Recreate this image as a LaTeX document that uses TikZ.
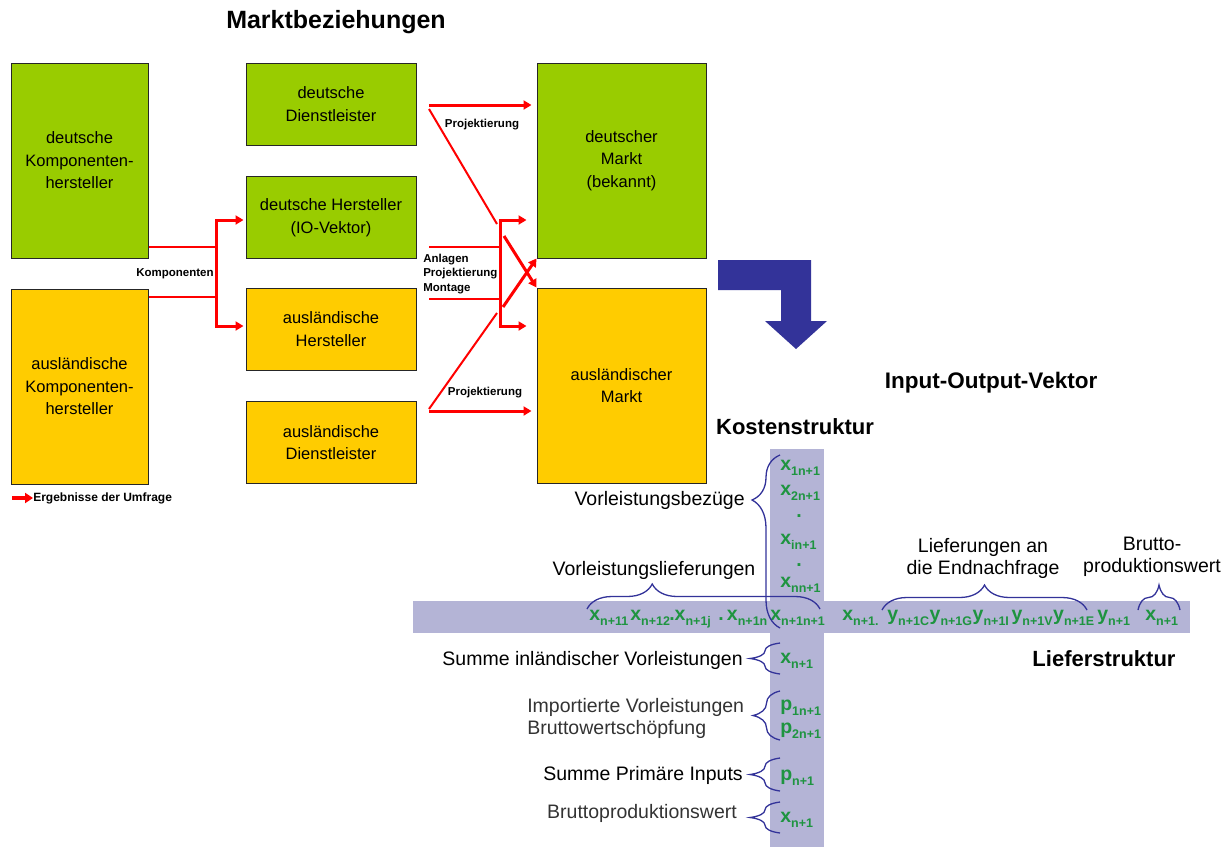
\documentclass[tikz,border=0pt]{standalone}
\usepackage{fontspec}
\setmainfont{Liberation Sans}
\usetikzlibrary{arrows.meta}
\usetikzlibrary{positioning}
\usetikzlibrary{calc}
\usetikzlibrary{decorations.pathreplacing}

\definecolor{kgreen}{HTML}{99CC00}
\definecolor{korange}{HTML}{FFCC00}
\definecolor{kred}{HTML}{FF0000}
\definecolor{kblue}{HTML}{333399}
\definecolor{kbar}{HTML}{B4B4D6}
\definecolor{kval}{HTML}{1E9440}

\newcommand{\fs}[1]{\fontsize{#1}{#1}\selectfont}
\newcommand{\ioval}[2]{{\fs{19.5}\bfseries #1}{\fs{12.5}\bfseries\raisebox{-5pt}{#2}}}

\begin{document}
\begin{tikzpicture}[x=1pt,y=-1pt,semithick]
		\tikzstyle{firmbox}=[draw=black!85,line width=1pt,inner sep=0pt,align=center,font=\fontsize{16.5}{22.5}\selectfont]
		\tikzstyle{bigbox}=[firmbox,minimum width=137pt,minimum height=195pt]
		\tikzstyle{midbox}=[firmbox,minimum width=170pt,minimum height=82pt]
		\tikzstyle{mktbox}=[firmbox,minimum width=169pt,minimum height=195pt]
		\tikzstyle{redline}=[draw=kred,line width=2pt]
		\tikzstyle{redarrow}=[draw=kred,line width=3pt,-{Triangle[length=8pt,width=9pt]}]
		\tikzstyle{smalllbl}=[inner sep=0pt,font=\fs{11.5}\bfseries]
		\tikzstyle{lbl}=[inner sep=0pt,align=center,font=\fontsize{19.5}{22}\selectfont]
		\tikzstyle{head}=[inner sep=0pt,font=\fs{22}\bfseries]
		\tikzstyle{val}=[inner sep=0pt,anchor=base west,text=kval]
		\tikzstyle{brc}=[draw=kblue,line width=1.3pt,decorate]
		
		\useasboundingbox (0,0) rectangle (1228,847);
		
		% Marktbeziehungen
		\node[inner sep=0pt,font=\fs{25}\bfseries] (T) at (336,22) {Marktbeziehungen};
		
		\node[bigbox,fill=kgreen]   (DK) at (79.5,160.5) {deutsche\\Komponenten-\\hersteller};
		\node[bigbox,fill=korange]  (AK) at (79.5,386.5) {ausländische\\Komponenten-\\hersteller};
		\node[midbox,fill=kgreen]   (DD) at (331,104)    {deutsche\\Dienstleister};
		\node[midbox,fill=kgreen]   (DH) at (331,217.5)  {deutsche Hersteller\\(IO-Vektor)};
		\node[midbox,fill=korange]  (AH) at (331,329)    {ausländische\\Hersteller};
		\node[midbox,fill=korange]  (AD) at (331,442.5)  {ausländische\\Dienstleister};
		\node[mktbox,fill=kgreen]   (DM) at (621.5,160.5) {deutscher\\Markt\\(bekannt)};
		\node[mktbox,fill=korange]  (AM) at (621.5,385.5) {ausländischer\\Markt};
		
		% Komponenten
		\coordinate (ka) at (216,247);
		\coordinate (kb) at (216,297);
		\coordinate (kt) at (216,220);
		\coordinate (kd) at (216,326);
		\draw[redline] (DK.east |- ka) -- (ka);
		\draw[redline] (AK.east |- kb) -- (kb);
		\draw[redarrow,{Triangle[length=8pt,width=9pt]}-{Triangle[length=8pt,width=9pt]},shorten <=2pt,shorten >=2pt]
			(DH.west |- kt) -- (kt) -- (kd) -- (AH.west |- kd);
		\node[smalllbl] (KL) at (175,274) {Komponenten};
		
		% Projektierung, Anlagen, Montage
		\coordinate (pa) at (429,105);
		\coordinate (pb) at (429,109);
		\coordinate (pc) at (497,224);
		\coordinate (pd) at (497,313);
		\coordinate (pe) at (429,409);
		\coordinate (pf) at (429,411);
		\coordinate (ra) at (500,220);
		\coordinate (rd) at (500,326);
		\coordinate (la) at (429,247);
		\coordinate (lc) at (429,299);
		\coordinate (xa) at (504,236);
		\coordinate (xb) at (503,307);
		\draw[redarrow,shorten >=5pt] (pa) -- (DM.west |- pa);
		\draw[redline] (pb) -- (pc);
		\draw[redarrow,{Triangle[length=8pt,width=9pt]}-{Triangle[length=8pt,width=9pt]},shorten <=10pt,shorten >=10pt]
			(DM.west |- ra) -- (ra) -- (rd) -- (AM.west |- rd);
		\draw[redline] (la) -- (la -| ra);
		\draw[redline] (lc) -- (lc -| ra);
		\draw[redarrow] (xa) -- (AM.north west);
		\draw[redarrow] (xb) -- (DM.south west);
		\draw[redline] (pd) -- (pe);
		\draw[redarrow,shorten >=5pt] (pf) -- (AM.west |- pf);
		\node[smalllbl] (P1) at (482,125) {Projektierung};
		\node[smalllbl] (P2) at (485,393) {Projektierung};
		\node[smalllbl,anchor=west,align=left,font=\fontsize{11.5}{14.5}\selectfont\bfseries] (APM) at (423,274) {Anlagen\\Projektierung\\Montage};
		
		% Legende
		\coordinate (lg) at (12,498);
		\node[smalllbl,anchor=west,font=\fs{12}\bfseries] (LG) at (33,498) {Ergebnisse der Umfrage};
		\draw[redarrow,line width=3.5pt,-{Triangle[length=8pt,width=10pt]}] (lg) -- (LG.west);
		
		% Pfeil
		\fill[kblue] (718,260) -- (811,260) -- (811,321) -- (827,321) -- (796,349)
			-- (765,321) -- (781,321) -- (781,290) -- (718,290) -- cycle;
		
		% Input-Output-Vektor
		\node[head,font=\fs{22.5}\bfseries] (IO) at (991,383) {Input-Output-Vektor};
		\node[head] (KS) at (795,427) {Kostenstruktur};
		\node[head] (LS) at (1104,659) {Lieferstruktur};
		
		\fill[kbar] (770,449) rectangle (824,847);
		\fill[kbar] (413,601) rectangle (1190,633);
		
		% Spalte
		\node[val] (c1) at (780,470) {\ioval{x}{1n+1}};
		\node[val] (c2) at (780,495) {\ioval{x}{2n+1}};
		\node[val,font=\fs{19.5}\bfseries] (c3) at (796,517) {.};
		\node[val] (c4) at (780,544) {\ioval{x}{in+1}};
		\node[val,font=\fs{19.5}\bfseries] (c5) at (796,566) {.};
		\node[val] (c6) at (780,587) {\ioval{x}{nn+1}};
		
		% Zeile
		\node[val] (r1) at (589,620) {\ioval{x}{n+11}};
		\node[val] (r2) at (630,620) {\ioval{x}{n+12}};
		\node[val] (r3) at (669,620) {\ioval{.x}{n+1j}};
		\node[val] (r4) at (718,620) {\ioval{.\,x}{n+1n}};
		\node[val] (r5) at (770,620) {\ioval{x}{n+1n+1}};
		\node[val] (r6) at (842,620) {\ioval{x}{n+1.}};
		\node[val] (y1) at (887,620) {\ioval{y}{n+1C}};
		\node[val,right=0pt of y1] (y2) {\ioval{y}{n+1G}};
		\node[val,right=0pt of y2] (y3) {\ioval{y}{n+1I}};
		\node[val,right=2pt of y3] (y4) {\ioval{y}{n+1V}};
		\node[val,right=0pt of y4] (y5) {\ioval{y}{n+1E}};
		\node[val] (r7) at (1097,620) {\ioval{y}{n+1}};
		\node[val] (r8) at (1145,620) {\ioval{x}{n+1}};
		
		% unten
		\node[val] (b1) at (780,663) {\ioval{x}{n+1}};
		\node[val] (b2) at (780,710) {\ioval{p}{1n+1}};
		\node[val] (b3) at (780,733) {\ioval{p}{2n+1}};
		\node[val] (b4) at (780,780) {\ioval{p}{n+1}};
		\node[val] (b5) at (780,822) {\ioval{x}{n+1}};
		
		% Klammern
		\draw[brc,decoration={brace,amplitude=25pt,aspect=0.28}] (587,609) -- (820,609);
		\draw[brc,decoration={brace,amplitude=28pt,aspect=0.74}] (780,628) -- (780,455);
		\draw[brc,decoration={brace,amplitude=25pt,aspect=0.5}] (882,610) -- (1087,610);
		\draw[brc,decoration={brace,amplitude=25pt,aspect=0.5}] (1138,610) -- (1180,610);
		\draw[brc,decoration={brace,amplitude=30pt,aspect=0.5}] (780,674) -- (780,643);
		\draw[brc,decoration={brace,amplitude=27pt,aspect=0.5}] (780,740) -- (780,691);
		\draw[brc,decoration={brace,amplitude=30pt,aspect=0.5}] (780,791) -- (780,758);
		\draw[brc,decoration={brace,amplitude=30pt,aspect=0.5}] (780,833) -- (780,802);
		
		\node[lbl] (VL) at (654,570) {Vorleistungslieferungen};
		\node[lbl,anchor=east] (VB) at (745,500) {Vorleistungsbezüge};
		\node[lbl] (LE) at (983,558) {Lieferungen an\\die Endnachfrage};
		\node[lbl] (BP) at (1152,557) {Brutto-\\produktionswert};
		\node[lbl,anchor=east] (SV) at (743,660) {Summe inländischer Vorleistungen};
		\node[lbl,anchor=west,align=left,text=black!80] (IV) at (527,718) {Importierte Vorleistungen\\Bruttowertschöpfung};
		\node[lbl,anchor=east] (SP) at (743,775) {Summe Primäre Inputs};
		\node[lbl,text=black!80] (BW) at (642,813) {Bruttoproduktionswert};
\end{tikzpicture}
\end{document}
